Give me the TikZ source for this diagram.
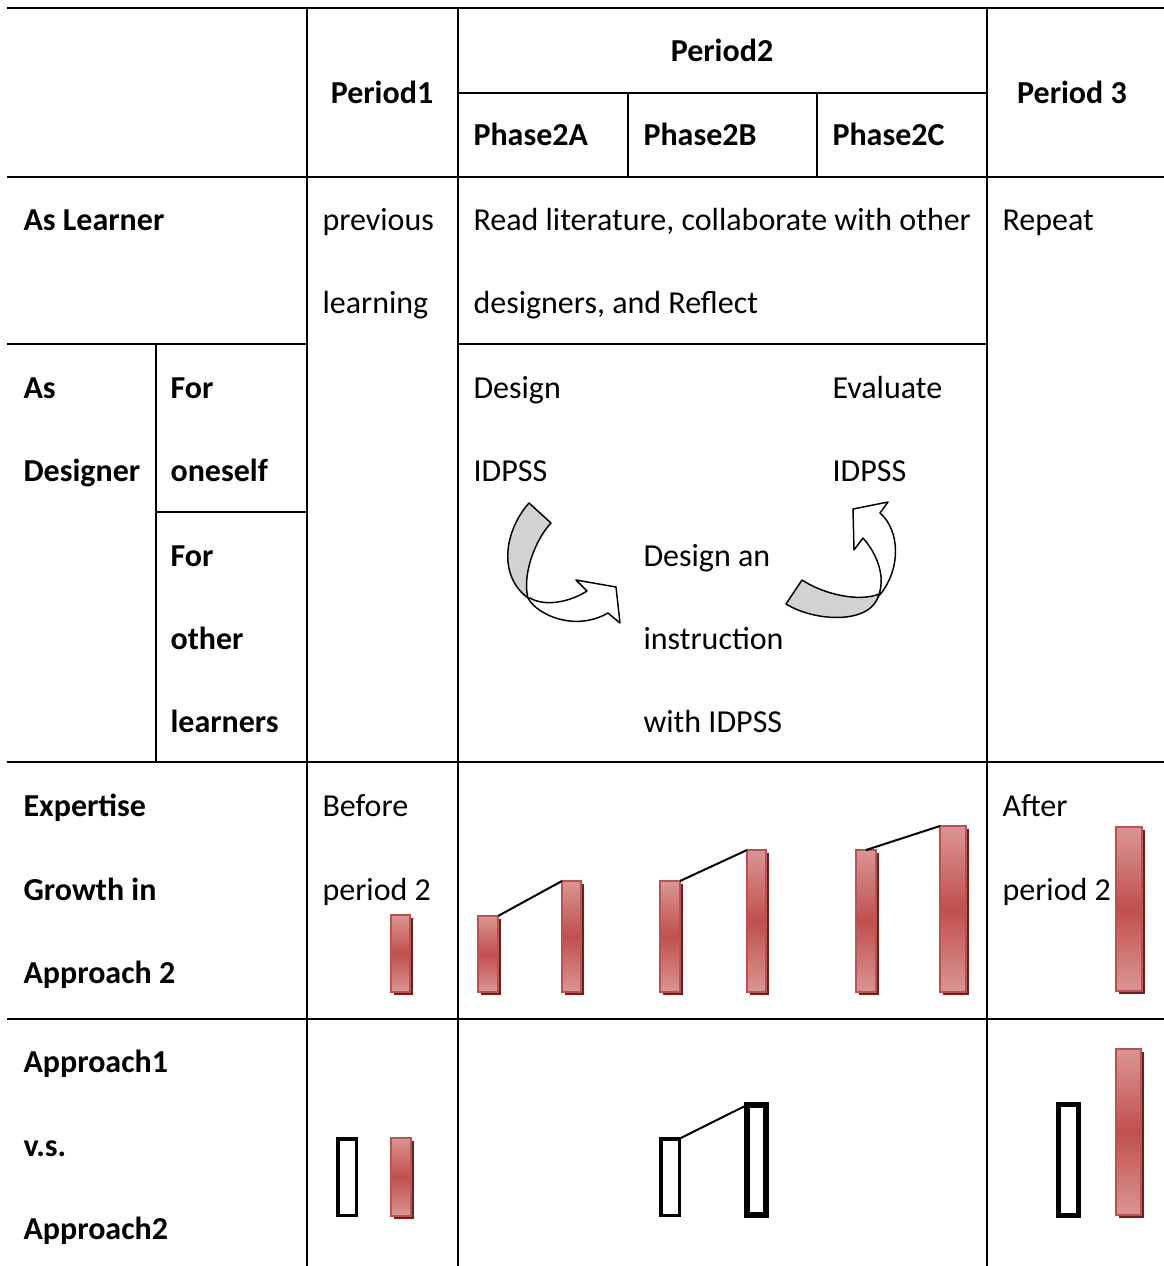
\documentclass[tikz,border=0pt]{standalone}
\usepackage{fontspec}
\setmainfont{Carlito}
\usetikzlibrary{shadows}
\definecolor{barlight}{HTML}{D99694}
\definecolor{bardark}{HTML}{C0504D}
\definecolor{barshadow}{HTML}{632523}
\definecolor{twistgray}{HTML}{D2D2D2}
% red growth bar: name, x1, y1, x2, y2 (outer edges)
\newcommand\rbar[5]{\node[redbar, minimum width={(#4-#2-2)*0.375pt}, minimum height={(#5-#3-2)*0.375pt}] (#1) at ({(#2+#4)/2},{(#3+#5)/2}) {};}
% hollow bar: name, x1, y1, x2, y2 (outer edges), stroke width
\newcommand\obar[6]{\node[hollowbar, line width={#6*0.375pt}, minimum width={(#4-#2-#6)*0.375pt}, minimum height={(#5-#3-#6)*0.375pt}] (#1) at ({(#2+#4)/2},{(#3+#5)/2}) {};}
\begin{document}
\begin{tikzpicture}[x=0.375pt, y=-0.375pt,
  rule/.style={line width=0.75pt},
  txt/.style={inner sep=0pt, font=\fontsize{12pt}{14pt}\selectfont},
  cell/.style={txt, anchor=base west},
  head/.style={cell, font=\fontsize{12pt}{14pt}\selectfont\bfseries},
  chead/.style={head, anchor=base},
  redbar/.style={draw=bardark, line width=0.75pt, top color=barlight, bottom color=barlight, middle color=bardark, inner sep=0pt, outer sep=0pt,
    drop shadow={shadow xshift=1.1pt, shadow yshift=-1.1pt, fill=barshadow, opacity=1}},
  hollowbar/.style={draw=black, fill=white, inner sep=0pt, outer sep=0pt},
  growline/.style={line width=0.75pt},
  twist/.style={draw=black, line width=0.55pt, line join=round}
]
\useasboundingbox (0,0) rectangle (1164,1266);

% table rules
\draw[rule] (7,8) -- (1164,8);
\draw[rule] (458,93) -- (987,93);
\draw[rule] (7,177) -- (1164,177);
\draw[rule] (7,344) -- (307,344);
\draw[rule] (458,344) -- (987,344);
\draw[rule] (156,512) -- (307,512);
\draw[rule] (7,762) -- (1164,762);
\draw[rule] (7,1019) -- (1164,1019);
\draw[rule] (156,344) -- (156,762);
\draw[rule] (307,8) -- (307,1266);
\draw[rule] (458,8) -- (458,1266);
\draw[rule] (628,93) -- (628,177);
\draw[rule] (817,93) -- (817,177);
\draw[rule] (987,8) -- (987,1266);

% header
\node[chead] (hp1) at (382,103) {Period1};
\node[chead] (hp2) at (722,61) {Period2};
\node[chead] (hp3) at (1072,103) {Period 3};
\node[head] (ha) at (473,145) {Phase2A};
\node[head] (hb) at (643,145) {Phase2B};
\node[head] (hc) at (832,145) {Phase2C};

% row: as learner
\node[head] (l1) at (23,230) {As Learner};
\node[cell] (l2) at (322,230) {previous};
\node[cell] (l3) at (322,313) {learning};
\node[cell] (l4) at (473,230) {Read literature, collaborate with other};
\node[cell] (l5) at (473,313) {designers, and Reflect};
\node[cell] (l6) at (1002,230) {Repeat};

% row: as designer
\node[head] (d1) at (23,398) {As};
\node[head] (d2) at (23,481) {Designer};
\node[head] (d3) at (170,398) {For};
\node[head] (d4) at (170,481) {oneself};
\node[head] (d5) at (170,566) {For};
\node[head] (d6) at (170,649) {other};
\node[head] (d7) at (170,732) {learners};
\node[cell] (d8) at (473,398) {Design};
\node[cell] (d9) at (473,481) {IDPSS};
\node[cell] (d10) at (832,398) {Evaluate};
\node[cell] (d11) at (832,481) {IDPSS};
\node[cell] (d12) at (643,566) {Design an};
\node[cell] (d13) at (643,649) {instruction};
\node[cell] (d14) at (643,732) {with IDPSS};

% curved arrow: design -> instruction
\path[twist, fill=twistgray] (529,503) .. controls (505,530) and (497,575) .. (528,598)
  .. controls (522,575) and (535,540) .. (551,523) -- cycle;
\path[twist, fill=white] (528,598) .. controls (537,615) and (575,632) .. (608,613)
  -- (620,623) -- (616,587) -- (576,580) -- (587,591)
  .. controls (570,602) and (545,607) .. (530,598) -- cycle;

% curved arrow: instruction -> evaluate
\path[twist, fill=twistgray] (786,604) -- (802,580) .. controls (825,595) and (860,602) .. (879,594)
  .. controls (872,625) and (815,622) .. (786,604) -- cycle;
\path[twist, fill=white] (878,597) .. controls (902,570) and (900,530) .. (880,513)
  -- (888,502) -- (853,509) -- (854,550) -- (863,538)
  .. controls (878,555) and (886,578) .. (878,597) -- cycle;

% row: expertise growth
\node[head] (e1) at (23,816) {Expertise};
\node[head] (e2) at (23,900) {Growth in};
\node[head] (e3) at (23,983) {Approach 2};
\node[cell] (e4) at (322,816) {Before};
\node[cell] (e5) at (322,900) {period 2};
\node[cell] (e6) at (1002,816) {After};
\node[cell] (e7) at (1002,900) {period 2};

\rbar{g0}{390}{914}{411}{993}
\rbar{g1}{477}{915}{499}{993}
\rbar{g2}{561}{880}{582}{993}
\rbar{g3}{659}{880}{681}{993}
\rbar{g4}{746}{849}{767}{993}
\rbar{g5}{855}{849}{877}{993}
\rbar{g6}{939}{825}{967}{993}
\rbar{g7}{1115}{826}{1143}{992}
\draw[growline] (g1.north east) -- (g2.north west);
\draw[growline] (g3.north east) -- (g4.north west);
\draw[growline] (g5.north) -- (g6.north west);

% row: approach comparison
\node[head] (c1) at (23,1072) {Approach1};
\node[head] (c2) at (23,1156) {v.s.};
\node[head] (c3) at (23,1239) {Approach2};

\obar{h0}{336}{1137}{358}{1217}{3.5}
\rbar{r0}{390}{1137}{412}{1217}
\obar{h1}{659}{1137}{681}{1217}{3.5}
\obar{h2}{744}{1102}{769}{1218}{6}
\draw[growline] (h1.north east) -- (h2.north west);
\obar{h3}{1056}{1102}{1081}{1218}{5}
\rbar{r3}{1115}{1048}{1142}{1216}
\end{tikzpicture}
\end{document}
